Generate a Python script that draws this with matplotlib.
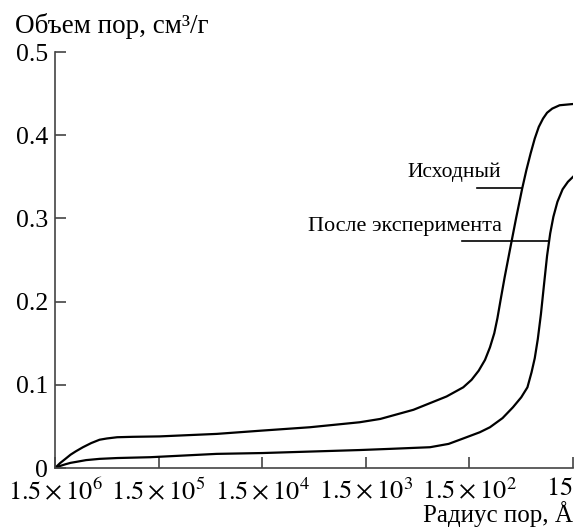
import matplotlib
matplotlib.use('Agg')
import matplotlib.pyplot as plt

plt.rcParams['font.family'] = ['Liberation Serif', 'DejaVu Serif']
plt.rcParams['mathtext.fontset'] = 'stix'

# pore radius, angstrom (x axis runs from large to small)
radius_initial = [1.5e6, 1.337e6, 1.19e6, 1.062e6, 9.46e5, 8.06e5, 6.70e5, 5.57e5,
                  4.74e5, 3.77e5, 2.67e5, 1.47e5, 4.13e4, 1.5e4, 5.2e3, 1.72e3,
                  1086, 520, 249, 172, 143, 122, 106, 95, 86.3, 80.5, 75, 68.6, 61,
                  53.2, 46.4, 42.3, 38.5, 35.1, 32.1, 29.2, 26.7, 23.8, 20.2, 15]
volume_initial = [0, 0.006, 0.011, 0.016, 0.020, 0.025, 0.030, 0.034,
                  0.0355, 0.037, 0.0375, 0.038, 0.041, 0.045, 0.049, 0.055,
                  0.059, 0.070, 0.086, 0.097, 0.106, 0.117, 0.130, 0.145, 0.162, 0.180, 0.202, 0.229, 0.262,
                  0.300, 0.336, 0.358, 0.378, 0.396, 0.410, 0.420, 0.427, 0.432, 0.436, 0.4375]

radius_after = [1.5e6, 1.337e6, 1.19e6, 1.062e6, 9.25e5, 7.52e5, 5.57e5, 3.77e5,
                1.80e5, 4.13e4, 1.5e4, 1.72e3, 884, 360, 238, 168, 119, 95, 71.8,
                57, 47.4, 41.3, 37.7, 35.1, 32.8, 30.6, 28.6, 26.7, 24.9, 23.2,
                21.2, 18.9, 16.8, 15]
volume_after = [0, 0.0025, 0.0045, 0.0062, 0.0075, 0.0095, 0.011, 0.012,
                0.013, 0.017, 0.018, 0.0216, 0.023, 0.025, 0.029, 0.036, 0.043, 0.049, 0.060,
                0.073, 0.085, 0.097, 0.115, 0.132, 0.155, 0.185, 0.220, 0.255, 0.282, 0.302,
                0.320, 0.335, 0.344, 0.350]

x_ticks = [1.5e6, 1.5e5, 1.5e4, 1.5e3, 1.5e2, 15]
x_labels = [r'$1.5\times10^{6}$', r'$1.5\times10^{5}$', r'$1.5\times10^{4}$',
            r'$1.5\times10^{3}$', r'$1.5\times10^{2}$', r'$15$']
y_ticks = [0, 0.1, 0.2, 0.3, 0.4, 0.5]
y_labels = ['0', '0.1', '0.2', '0.3', '0.4', '0.5']

fig = plt.figure(figsize=(5.85, 5.28), dpi=100)
ax = fig.add_axes([0.094, 0.1136, 0.8855, 0.7879])

ax.plot(radius_initial, volume_initial, color='black', lw=1.6, solid_joinstyle='round')
ax.plot(radius_after, volume_after, color='black', lw=1.6, solid_joinstyle='round')

ax.set_xscale('log')
ax.set_xlim(1.5e6, 15)
ax.set_ylim(0, 0.5)
ax.minorticks_off()
ax.set_xticks(x_ticks)
ax.set_xticklabels(x_labels)
ax.set_yticks(y_ticks)
ax.set_yticklabels(y_labels)
ax.get_xticklabels()[-1].set_ha('right')

for side in ['top', 'right']:
    ax.spines[side].set_visible(False)
for side in ['left', 'bottom']:
    ax.spines[side].set_color('#444444')
    ax.spines[side].set_linewidth(1.2)

ax.tick_params(axis='both', direction='in', length=8, width=1.2, color='#444444')
ax.tick_params(axis='x', pad=7, labelsize=19)
ax.tick_params(axis='y', pad=5, labelsize=18.5)

# curve labels with leader lines
ax.plot([128, 46.4], [0.3365, 0.3365], color='black', lw=1.2)
ax.plot([176, 26.1], [0.273, 0.273], color='black', lw=1.2)
ax.text(73.5, 0.355, 'Исходный', ha='right', va='center', fontsize=15.5)
ax.text(73.5, 0.29, 'После эксперимента', ha='right', va='center', fontsize=16)

fig.text(0.026, 0.9375, 'Объем пор, см³/г', ha='left', va='baseline', fontsize=19.5)
fig.text(0.9795, 0.011, 'Радиус пор, Å', ha='right', va='baseline', fontsize=18)

fig.savefig('out.png', dpi=100)
